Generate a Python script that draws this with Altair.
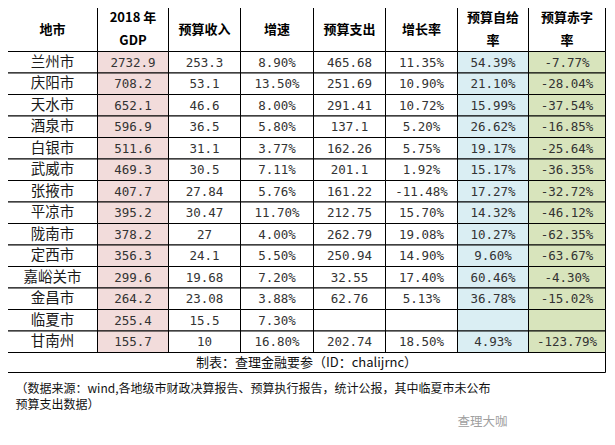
import altair as alt
import pandas as pd

# ---------------- data ----------------
headers = ["地市", "2018 年\nGDP", "预算收入", "增速", "预算支出", "增长率", "预算自给\n率", "预算赤字\n率"]
cities = ["兰州市", "庆阳市", "天水市", "酒泉市", "白银市", "武威市", "张掖市",
          "平凉市", "陇南市", "定西市", "嘉峪关市", "金昌市", "临夏市", "甘南州"]
gdp = ["2732.9", "708.2", "652.1", "596.9", "511.6", "469.3", "407.7",
       "395.2", "378.2", "356.3", "299.6", "264.2", "255.4", "155.7"]
revenue = ["253.3", "53.1", "46.6", "36.5", "31.1", "30.5", "27.84",
           "30.47", "27", "24.1", "19.68", "23.08", "15.5", "10"]
revenue_growth = ["8.90%", "13.50%", "8.00%", "5.80%", "3.77%", "7.11%", "5.76%",
                  "11.70%", "4.00%", "5.50%", "7.20%", "3.88%", "7.30%", "16.80%"]
expenditure = ["465.68", "251.69", "291.41", "137.1", "162.26", "201.1", "161.22",
               "212.75", "262.79", "250.94", "32.55", "62.76", "", "202.74"]
expenditure_growth = ["11.35%", "10.90%", "10.72%", "5.20%", "5.75%", "1.92%", "-11.48%",
                      "15.70%", "19.08%", "14.90%", "17.40%", "5.13%", "", "18.50%"]
self_sufficiency = ["54.39%", "21.10%", "15.99%", "26.62%", "19.17%", "15.17%", "17.27%",
                    "14.32%", "10.27%", "9.60%", "60.46%", "36.78%", "", "4.93%"]
deficit_rate = ["-7.77%", "-28.04%", "-37.54%", "-16.85%", "-25.64%", "-36.35%", "-32.72%",
                "-46.12%", "-62.35%", "-63.67%", "-4.30%", "-15.02%", "", "-123.79%"]
footer_text = "制表：查理金融要参（ID：chalijrnc）"
note_lines = ["（数据来源：wind,各地级市财政决算报告、预算执行报告，统计公报，其中临夏市未公布",
              "预算支出数据）"]
watermark = "查理大咖"

# ---------------- layout / style ----------------
col_widths = [90, 71, 72, 73, 72, 72, 71, 77]
col_fills = ["#ffffff", "#f2dcdb", "#ffffff", "#ffffff", "#ffffff", "#ffffff", "#daeef3", "#d8e4bc"]
left, top = 7, 7
header_h, row_h, footer_h = 44, 21.5, 20
header_line_gap = 23

edges = [left]
for w in col_widths:
    edges.append(edges[-1] + w)
row_edges = [top, top + header_h]
for _ in cities:
    row_edges.append(row_edges[-1] + row_h)
footer_top = row_edges[-1]
footer_bot = footer_top + footer_h

columns = [cities, gdp, revenue, revenue_growth, expenditure,
           expenditure_growth, self_sufficiency, deficit_rate]

rects, header_cells, city_cells, num_cells = [], [], [], []
for c in range(len(headers)):
    x0, x1 = edges[c], edges[c + 1]
    rects.append(dict(x=x0, x2=x1, y=row_edges[0], y2=row_edges[1], fill="#ffffff"))
    lines = headers[c].split("\n")
    yc = (row_edges[0] + row_edges[1]) / 2
    for i, ln in enumerate(lines):
        off = (i - (len(lines) - 1) / 2) * header_line_gap
        header_cells.append(dict(x=(x0 + x1) / 2, y=yc + off, t=ln))
    for r in range(len(cities)):
        y0, y1 = row_edges[r + 1], row_edges[r + 2]
        rects.append(dict(x=x0, x2=x1, y=y0, y2=y1, fill=col_fills[c]))
        cell = dict(x=(x0 + x1) / 2, y=(y0 + y1) / 2 + 0.5, t=columns[c][r])
        (city_cells if c == 0 else num_cells).append(cell)
rects.append(dict(x=edges[0], x2=edges[-1], y=footer_top, y2=footer_bot, fill="#ffffff"))

rect_df = pd.DataFrame(rects)
header_df = pd.DataFrame(header_cells)
city_df = pd.DataFrame(city_cells)
num_df = pd.DataFrame(num_cells)
footer_df = pd.DataFrame([dict(x=(edges[0] + edges[-1]) / 2, y=(footer_top + footer_bot) / 2, t=footer_text)])
note_df = pd.DataFrame([dict(x=15, y=388, t=note_lines[0]), dict(x=15, y=404, t=note_lines[1])])
wm_df = pd.DataFrame([dict(x=482, y=421, t=watermark)])

W, H = 599, 429
xs = alt.Scale(domain=[7.5, 7.5 + W], nice=False, zero=False)
ys = alt.Scale(domain=[7.5, 7.5 + H], nice=False, zero=False, reverse=True)
X = lambda: alt.X("x:Q", scale=xs, axis=None)
Y = lambda: alt.Y("y:Q", scale=ys, axis=None)

cells = alt.Chart(rect_df).mark_rect(stroke="#000000", strokeWidth=1).encode(
    x=X(), x2="x2:Q", y=Y(), y2="y2:Q", fill=alt.Fill("fill:N", scale=None))

CJK = "Noto Sans CJK SC"
header_text = alt.Chart(header_df).mark_text(
    font=CJK, fontSize=13, fontWeight="bold", color="#000000",
    align="center", baseline="middle").encode(
    x=X(), y=Y(), text="t:N")
city_text = alt.Chart(city_df).mark_text(
    font=CJK, fontSize=14.5, color="#1a1a1a", align="center", baseline="middle").encode(
    x=X(), y=Y(), text="t:N")
num_text = alt.Chart(num_df).mark_text(
    font="DejaVu Sans Mono", fontSize=12.5, color="#333333", align="center", baseline="middle").encode(
    x=X(), y=Y(), text="t:N")
footer_t = alt.Chart(footer_df).mark_text(
    font=CJK, fontSize=13, color="#111111", align="center", baseline="middle").encode(
    x=X(), y=Y(), text="t:N")
note_t = alt.Chart(note_df).mark_text(
    font=CJK, fontSize=12, color="#111111", align="left", baseline="middle").encode(
    x=X(), y=Y(), text="t:N")
wm_t = alt.Chart(wm_df).mark_text(
    font=CJK, fontSize=12.5, color="#a0a0a0", align="center", baseline="middle").encode(
    x=X(), y=Y(), text="t:N")

chart = alt.layer(cells, header_text, city_text, num_text, footer_t, note_t, wm_t).properties(
    width=W, height=H, padding=0, autosize="none", background="#ffffff"
).configure_view(stroke=None)

chart.save("out.html", embed_options={"renderer": "svg", "actions": False})
